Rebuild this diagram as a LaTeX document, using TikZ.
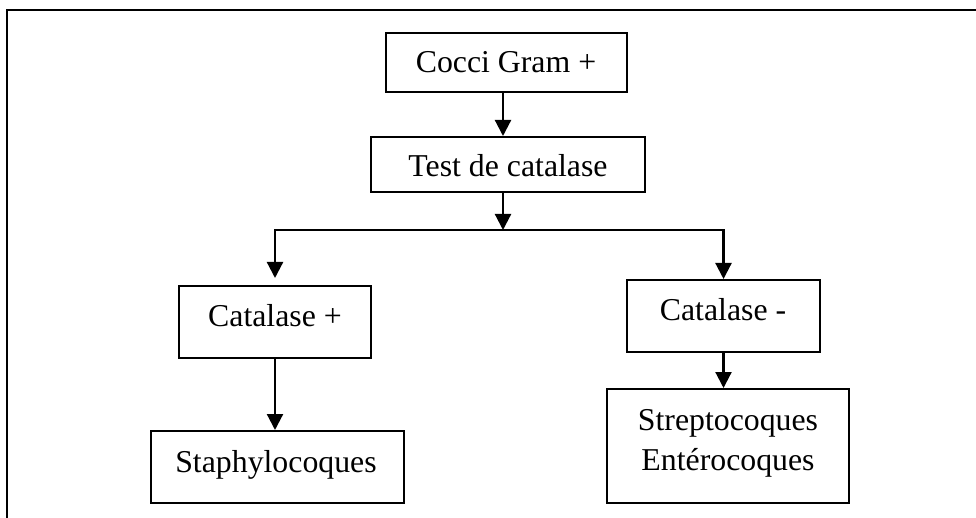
\documentclass[tikz,border=0pt]{standalone}
\usepackage{fontspec}
\setmainfont{Liberation Serif}
\usetikzlibrary{arrows.meta}
\begin{document}
\begin{tikzpicture}[x=1pt,y=-1pt,
  boxnode/.style={draw=black,line width=2pt,inner sep=0pt,rectangle},
  txt/.style={inner sep=0pt,anchor=base,font=\fontsize{31.8}{40}\selectfont,align=center},
  arr/.style={line width=2.2pt,-{Triangle[width=16pt,length=16pt]}},
  conn/.style={line width=2.2pt}]
\clip (0,0) rectangle (976,518);
\draw[line width=2.6pt] (7,10) rectangle (1000,540);
% boxes
\node[boxnode,minimum width=241pt,minimum height=59pt] (cocci) at (506.5,62.5) {};
\node[boxnode,minimum width=274pt,minimum height=55pt] (test) at (508,164.5) {};
\node[boxnode,minimum width=192pt,minimum height=72pt] (catp) at (275,322) {};
\node[boxnode,minimum width=193pt,minimum height=72pt] (catm) at (723.5,316) {};
\node[boxnode,minimum width=253pt,minimum height=72pt] (staph) at (277.5,467) {};
\node[boxnode,minimum width=242pt,minimum height=114pt] (strep) at (728,446) {};
% texts
\node[txt] (tcocci) at (506,73) {Cocci Gram +};
\node[txt] (ttest) at (508,177) {Test de catalase};
\node[txt] (tcatp) at (275,326) {Catalase +};
\node[txt] (tcatm) at (723,320) {Catalase -};
\node[txt] (tstaph) at (276,472) {Staphylocoques};
\node[txt] (tstrep) at (728,470) {Streptocoques\\Entérocoques};
% connectors
\coordinate (junction) at (503,230);
\draw[arr] (cocci.south -| junction) -- (test.north -| junction);
\draw[arr] (test.south -| junction) -- (junction);
\draw[arr,shorten >=7pt] (junction) -| (catp.north);
\draw[arr] (junction) -| (catm.north);
\draw[arr] (catp.south) -- (staph.north -| catp.south);
\draw[arr] (catm.south) -- (strep.north -| catm.south);
\end{tikzpicture}
\end{document}
